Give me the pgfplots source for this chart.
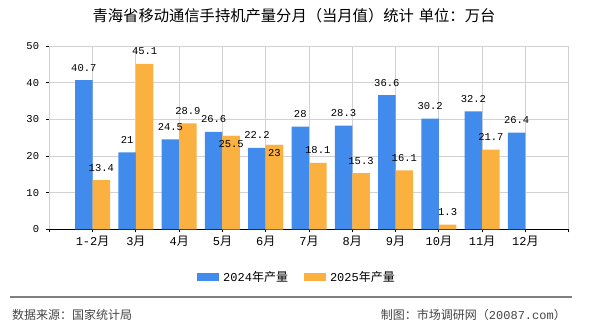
\documentclass[border=0pt]{standalone}
\usepackage{fontspec}
\setmainfont{Noto Sans CJK SC}
\newfontfamily\mono{Liberation Mono}
\usepackage{pgfplots}
\pgfplotsset{compat=1.18}

\definecolor{bar24}{RGB}{65,139,236}
\definecolor{bar25}{RGB}{251,177,63}
\definecolor{gridgray}{RGB}{210,210,210}
\definecolor{foot}{RGB}{68,68,68}

% month label: digits in the mono face, 月 in the CJK face
\newcommand\mon[1]{{\mono #1}月}

\pgfplotsset{
  lgbox/.style={
    legend image code/.code={
      \fill[##1, draw=none] (0bp,-4bp) rectangle (22bp,4bp);
      \path (26bp,0bp);
    }
  }
}

\begin{document}
\begin{tikzpicture}
\useasboundingbox (0,0) rectangle (590bp,330bp);

% title
\node[font=\fontsize{15.3bp}{18bp}\selectfont, anchor=center]
  at (294bp,314bp) {青海省移动通信手持机产量分月（当月值）统计\hspace{5bp}单位：万台};

\begin{axis}[
  at={(49.3bp,100.7bp)}, anchor=south west,
  scale only axis, width=519.4bp, height=183.3bp,
  xmin=0, xmax=12, ymin=0, ymax=50,
  axis x line*=bottom, axis y line*=left,
  axis line style={black, line width=1bp},
  xtick={1,...,11},
  xticklabels={\mon{1-2},\mon{3},\mon{4},\mon{5},\mon{6},\mon{7},\mon{8},\mon{9},\mon{10},\mon{11},\mon{12}},
  extra x ticks={0,12}, extra x tick labels={},
  ytick={0,10,20,30,40,50},
  yticklabel={\mono\pgfmathprintnumber[assume math mode=true]{\tick}},
  grid=major,
  major grid style={gridgray, line width=0.8bp},
  tick align=outside, major tick length=3bp,
  tick style={black, line width=0.8bp},
  xticklabel style={font=\fontsize{12bp}{14bp}\selectfont, inner sep=0pt, anchor=north, yshift=-4bp},
  yticklabel style={font=\fontsize{10.5bp}{12bp}\selectfont, inner sep=0pt, anchor=east, xshift=-7bp},
  ybar, bar width=17.5bp,
  point meta=explicit symbolic,
  nodes near coords={\pgfplotspointmeta},
  every node near coord/.append style={font=\mono\fontsize{10.5bp}{12bp}\selectfont, anchor=base, inner sep=0pt, yshift=9bp, text=black},
  legend columns=2,
  legend style={at={(0.2844,-0.260)}, anchor=west, draw=none, fill=none, inner sep=0pt,
    font=\fontsize{12bp}{14bp}\selectfont,
    nodes={inner sep=0pt},
    /tikz/every even column/.append style={column sep=16bp}},
]
\addplot[lgbox, fill=bar24, draw=none, bar shift=-8.75bp] coordinates {
  (1,40.7)[40.7] (2,21)[21] (3,24.5)[24.5] (4,26.6)[26.6] (5,22.2)[22.2]
  (6,28)[28] (7,28.3)[28.3] (8,36.6)[36.6] (9,30.2)[30.2] (10,32.2)[32.2] (11,26.4)[26.4]
};
\addlegendentry{{\mono\fontsize{12bp}{14bp}\selectfont 2024}年产量}
% 2025: labels of 5月 and 6月 sit inside the bar tops, drawn by the next plot
\addplot[lgbox, fill=bar25, draw=none, bar shift=8.75bp] coordinates {
  (1,13.4)[13.4] (2,45.1)[45.1] (3,28.9)[28.9] (4,25.5)[] (5,23)[]
  (6,18.1)[18.1] (7,15.3)[15.3] (8,16.1)[16.1] (9,1.3)[1.3] (10,21.7)[21.7]
};
\addlegendentry{{\mono\fontsize{12bp}{14bp}\selectfont 2025}年产量}
\addplot[forget plot, fill=bar25, draw=none, bar shift=8.75bp,
  nodes near coords={\raisebox{-20.3bp}{\pgfplotspointmeta}}] coordinates {
  (4,25.5)[25.5] (5,23)[23]
};
\end{axis}

% footer
\draw[gray, line width=1.3bp] (10bp,33bp) -- (572bp,33bp);
\node[anchor=west, text=foot, font=\fontsize{12bp}{14bp}\selectfont, inner sep=0pt]
  at (12bp,15bp) {数据来源：国家统计局};
\node[anchor=east, text=foot, font=\fontsize{12bp}{14bp}\selectfont, inner sep=0pt]
  at (566bp,15bp) {制图：市场调研网（{\mono 20087.com}）};
\end{tikzpicture}
\end{document}
